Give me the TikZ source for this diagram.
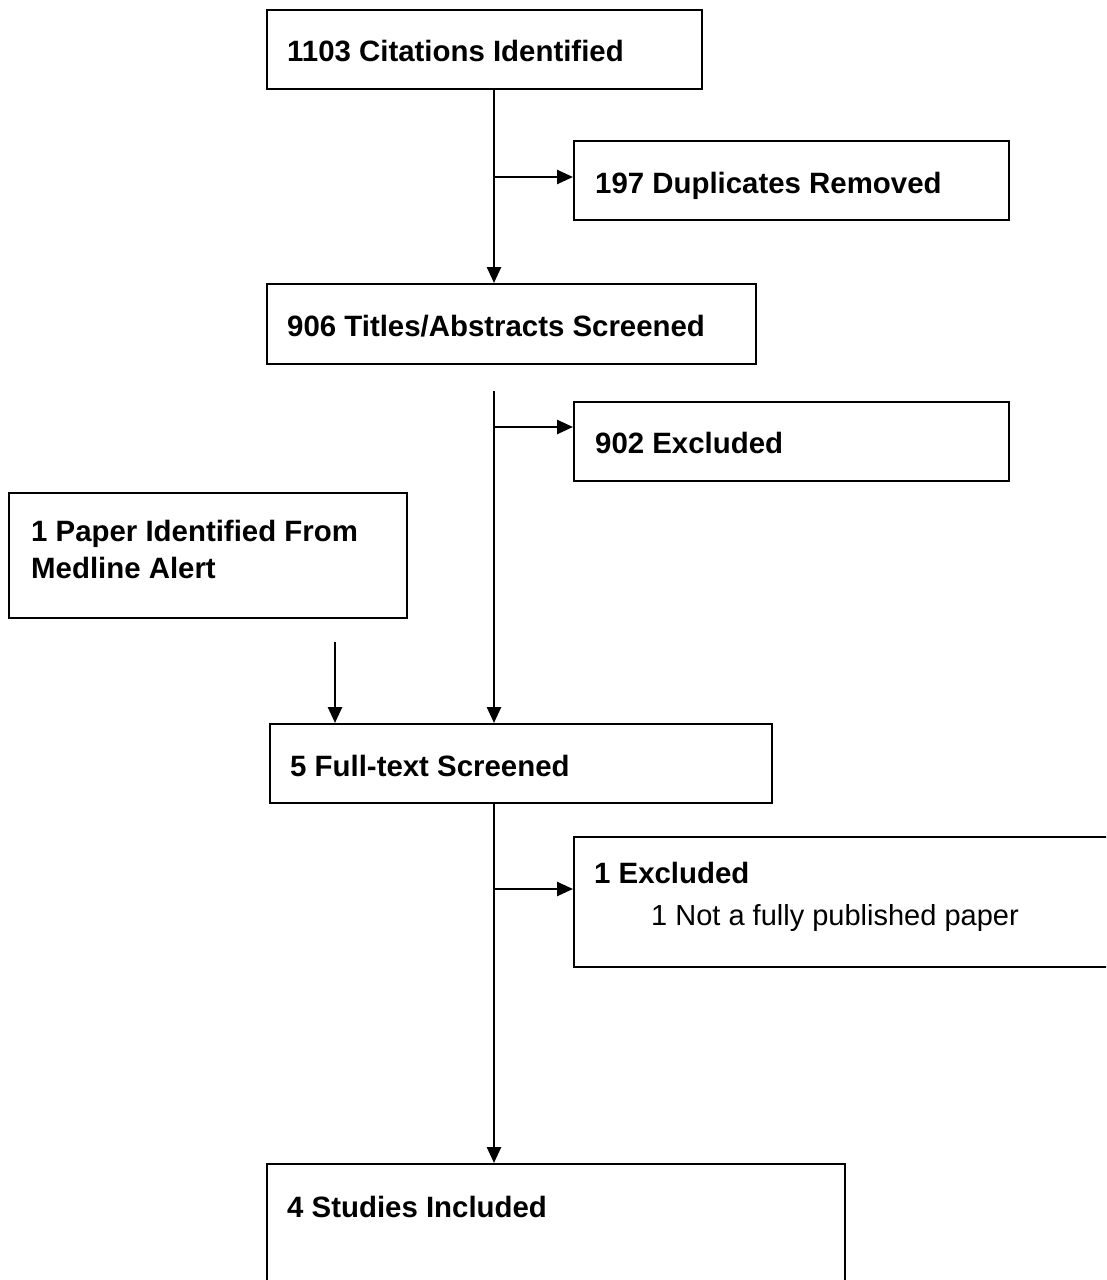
\documentclass[tikz,border=0pt]{standalone}
\usepackage{fontspec}
\setmainfont{Liberation Sans}
\usetikzlibrary{arrows.meta}
\tikzset{
  box/.style={draw=black, line width=2pt, rectangle, inner sep=0pt, anchor=north west},
  lbl/.style={font=\fontsize{29.4}{36}\selectfont\bfseries, inner sep=0pt, anchor=base west},
  sub/.style={font=\fontsize{29}{36}\selectfont, inner sep=0pt, anchor=base west},
  conn/.style={line width=2.5pt, -{Triangle[length=16pt,width=14pt]}},
}
\begin{document}
\begin{tikzpicture}[x=1pt,y=-1pt]
\useasboundingbox (0,0) rectangle (1106,1280);
\clip (0,0) rectangle (1106,1280);
\fill[white] (0,0) rectangle (1106,1280);

% boxes
\node[box, minimum width=435pt, minimum height=79pt] (b1) at (266,9) {};
\node[box, minimum width=435pt, minimum height=79pt] (b2) at (573,140) {};
\node[box, minimum width=489pt, minimum height=80pt] (b3) at (266,283) {};
\node[box, minimum width=435pt, minimum height=79pt] (b4) at (573,401) {};
\node[box, minimum width=398pt, minimum height=125pt] (b5) at (8,492) {};
\node[box, minimum width=502pt, minimum height=79pt] (b6) at (269,723) {};
\node[box, minimum width=560pt, minimum height=130pt] (b7) at (573,836) {};
\node[box, minimum width=578pt, minimum height=140pt] (b8) at (266,1163) {};

% texts
\node[lbl] (t1) at (287,61) {1103 Citations Identified};
\node[lbl] (t2) at (595,193) {197 Duplicates Removed};
\node[lbl] (t3) at (287,336) {906 Titles/Abstracts Screened};
\node[lbl] (t4) at (595,453) {902 Excluded};
\node[lbl] (t5a) at (31,541) {1 Paper Identified From};
\node[lbl] (t5b) at (31,578) {Medline Alert};
\node[lbl] (t6) at (290,776) {5 Full-text Screened};
\node[lbl] (t7a) at (594,883) {1 Excluded};
\node[sub] (t7b) at (651,925) {1 Not a fully published paper};
\node[lbl] (t8) at (287,1217) {4 Studies Included};

% connector coordinates
\coordinate (m1) at (494,0);
\coordinate (j1) at (494,177);
\coordinate (s2) at (494,391);
\coordinate (j2) at (494,427);
\coordinate (s3) at (335,642);
\coordinate (j3) at (494,889);

% connectors
\draw[conn] (b1.south -| m1) -- (b3.north -| m1);
\draw[conn] (j1) -- (j1 -| b2.west);
\draw[conn] (s2) -- (s2 |- b6.north);
\draw[conn] (j2) -- (j2 -| b4.west);
\draw[conn] (s3) -- (s3 |- b6.north);
\draw[conn] (b6.south -| m1) -- (b8.north -| m1);
\draw[conn] (j3) -- (j3 -| b7.west);
\end{tikzpicture}
\end{document}
